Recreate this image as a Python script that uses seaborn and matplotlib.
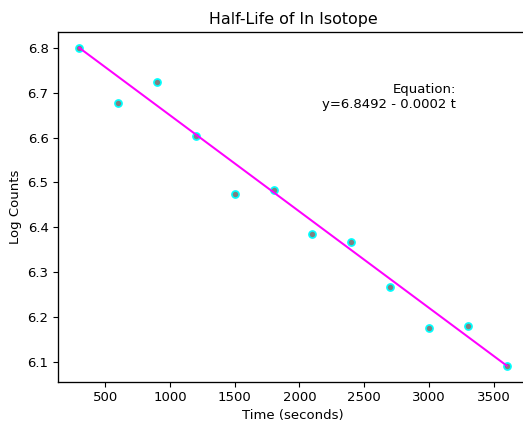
import numpy as np
import pandas as pd
import matplotlib
matplotlib.use("Agg")
import matplotlib.pyplot as plt
import seaborn as sns

# Measurements: elapsed time (s) and natural log of counts
time_s = [300, 600, 900, 1200, 1500, 1800, 2100, 2400, 2700, 3000, 3300, 3600]
log_counts = [6.800, 6.676, 6.724, 6.603, 6.473, 6.482, 6.385, 6.367, 6.266, 6.176, 6.180, 6.091]

# Fitted equation shown on the chart
eq_intercept = 6.8492
eq_slope = -0.0002

plt.rcParams.update({
    "font.size": 9.5,
    "xtick.labelsize": 9.5,
    "ytick.labelsize": 9.5,
    "axes.labelsize": 9.5,
    "axes.titlesize": 11.4,
    "xtick.major.size": 3.3,
    "ytick.major.size": 3.3,
    "axes.linewidth": 0.95,
})

df = pd.DataFrame({"t": time_s, "logc": log_counts})

fig = plt.figure(figsize=(5.23, 4.26), dpi=100)
ax = fig.add_axes([58 / 523, 44.5 / 426, 470 / 523, 349.5 / 426])

sns.scatterplot(data=df, x="t", y="logc", ax=ax, color="#808080",
                edgecolor="cyan", linewidth=1.2, s=26, zorder=3)

# Trend line across the measured span
trend = pd.DataFrame({"t": [time_s[0], time_s[-1]],
                      "logc": [log_counts[0], log_counts[-1]]})
sns.lineplot(data=trend, x="t", y="logc", ax=ax, color="magenta",
             linewidth=1.45, zorder=4)

ax.text(0.847, 0.813,
        f"Equation:\ny={eq_intercept:.4f} - {abs(eq_slope):.4f} t",
        transform=ax.transAxes, ha="right", va="center",
        multialignment="right", fontsize=9.5)

ax.set_xticks([500, 1000, 1500, 2000, 2500, 3000, 3500])
ax.set_title("Half-Life of In Isotope", pad=5.7)
ax.set_xlabel("Time (seconds)", labelpad=3.8)
ax.set_ylabel("Log Counts", labelpad=3.8)

fig.savefig("out.png", dpi=100)
